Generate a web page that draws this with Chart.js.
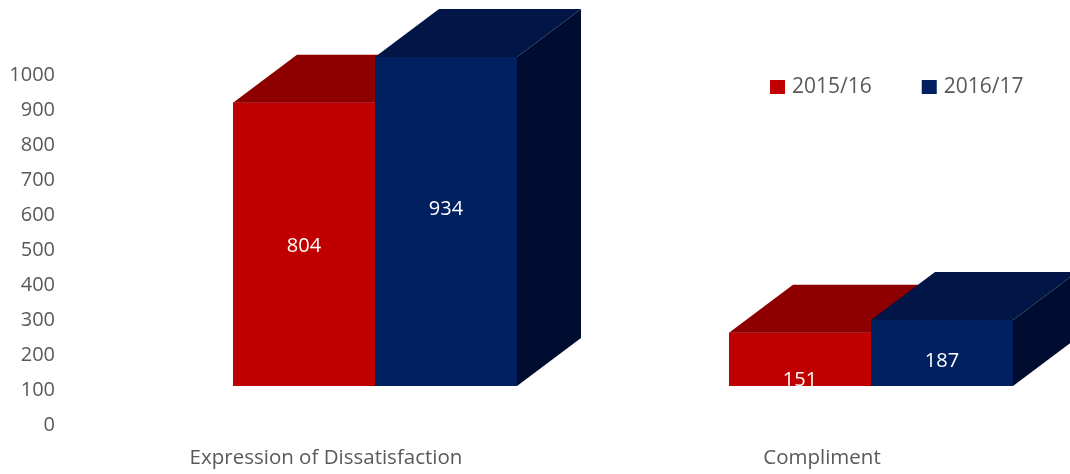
<!DOCTYPE html>
<html>
<head>
<meta charset="utf-8">
<script src="https://cdn.jsdelivr.net/npm/chart.js@4.4.1/dist/chart.umd.min.js"></script>
<style>
  html, body { margin: 0; padding: 0; background: #fff; overflow: hidden; }
  #wrap { width: 1070px; height: 474px; overflow: hidden; }
</style>
</head>
<body>
<div id="wrap"><canvas id="chart" width="1119" height="474"></canvas></div>
<script>
const categories = ["Expression of Dissatisfaction", "Compliment"];
const seriesNames = ["2015/16", "2016/17"];
const values1516 = [804, 151];
const values1617 = [934, 187];
const tickLabelMax = 1000;

const textColor = "#595959";
const fontFamily = "'Open Sans', sans-serif";
const depthX = 64;
const depthY = -48;

Chart.defaults.font.family = fontFamily;
Chart.defaults.font.size = 20;
Chart.defaults.color = textColor;

// draws each bar again left to right with its top and side face,
// so the bar on the right hides the side of the one before it
const cubePlugin = {
  id: "cube3d",
  afterDatasetsDraw(chart) {
    const ctx = chart.ctx;
    chart.data.datasets.forEach((ds, i) => {
      chart.getDatasetMeta(i).data.forEach((bar) => {
        const { x, y, base, width } = bar.getProps(["x", "y", "base", "width"], true);
        const l = x - width / 2;
        const r = x + width / 2;
        bar.draw(ctx);
        ctx.save();
        ctx.fillStyle = ds.topColor;
        ctx.beginPath();
        ctx.moveTo(l, y);
        ctx.lineTo(r, y);
        ctx.lineTo(r + depthX, y + depthY);
        ctx.lineTo(l + depthX, y + depthY);
        ctx.closePath();
        ctx.fill();
        ctx.fillStyle = ds.sideColor;
        ctx.beginPath();
        ctx.moveTo(r, y);
        ctx.lineTo(r + depthX, y + depthY);
        ctx.lineTo(r + depthX, base + depthY);
        ctx.lineTo(r, base);
        ctx.closePath();
        ctx.fill();
        ctx.restore();
      });
    });

    // value labels sit a little below the middle of the front face, clipped to it
    chart.data.datasets.forEach((ds, i) => {
      chart.getDatasetMeta(i).data.forEach((bar, j) => {
        const { x, y, base, width } = bar.getProps(["x", "y", "base", "width"], true);
        ctx.save();
        ctx.beginPath();
        ctx.rect(x - width / 2, y, width, base - y);
        ctx.clip();
        ctx.fillStyle = "#ffffff";
        ctx.font = "20px " + fontFamily;
        ctx.textAlign = "center";
        ctx.textBaseline = "middle";
        ctx.fillText(String(ds.data[j]), x, base + ds.labelDrop - 0.58 * (base - y));
        ctx.restore();
      });
    });
  },
};

const legendPlugin = {
  id: "topRightLegend",
  afterDraw(chart) {
    const ctx = chart.ctx;
    let x = 770;
    const cy = 87;
    ctx.save();
    ctx.font = "21px " + fontFamily;
    ctx.textBaseline = "middle";
    ctx.textAlign = "left";
    chart.data.datasets.forEach((ds) => {
      ctx.fillStyle = ds.backgroundColor;
      ctx.fillRect(x, cy - 7, 15, 14);
      ctx.fillStyle = textColor;
      ctx.fillText(ds.label, x + 22, cy);
      x += 22 + ctx.measureText(ds.label).width + 50;
    });
    ctx.restore();
  },
};

new Chart(document.getElementById("chart").getContext("2d"), {
  type: "bar",
  data: {
    labels: categories,
    datasets: [
      {
        label: seriesNames[0],
        data: values1516,
        backgroundColor: "#C00000",
        topColor: "#8E0000",
        sideColor: "#6E0000",
        labelDrop: 25,
        yAxisID: "yBars",
      },
      {
        label: seriesNames[1],
        data: values1617,
        backgroundColor: "#002060",
        topColor: "#011646",
        sideColor: "#000D30",
        labelDrop: 14,
        yAxisID: "yBars",
      },
    ],
  },
  options: {
    responsive: false,
    animation: false,
    devicePixelRatio: 1,
    categoryPercentage: 0.5726,
    barPercentage: 1,
    layout: { padding: { top: 5, right: 0, left: 0, bottom: 0 } },
    plugins: {
      legend: { display: false },
      tooltip: { enabled: false },
    },
    scales: {
      x: {
        offset: true,
        grid: { display: false, drawTicks: false },
        border: { display: false },
        ticks: { labelOffset: -49, padding: 21, maxRotation: 0, font: { size: 20.5 } },
        afterFit: (scale) => {
          scale.height = 49;
          scale.paddingLeft = 0;
          scale.paddingRight = 0;
        },
      },
      y: {
        position: "left",
        min: 0,
        max: 1200,
        grid: { display: false, drawTicks: false },
        border: { display: false },
        ticks: {
          stepSize: 100,
          padding: 72,
          callback: (v) => (v > tickLabelMax ? "" : v),
        },
        afterFit: (scale) => {
          scale.width = 127;
          scale.paddingTop = 0;
          scale.paddingBottom = 0;
        },
      },
      yBars: {
        display: false,
        min: -111,
        max: 1082,
      },
    },
  },
  plugins: [cubePlugin, legendPlugin],
});
</script>
</body>
</html>
